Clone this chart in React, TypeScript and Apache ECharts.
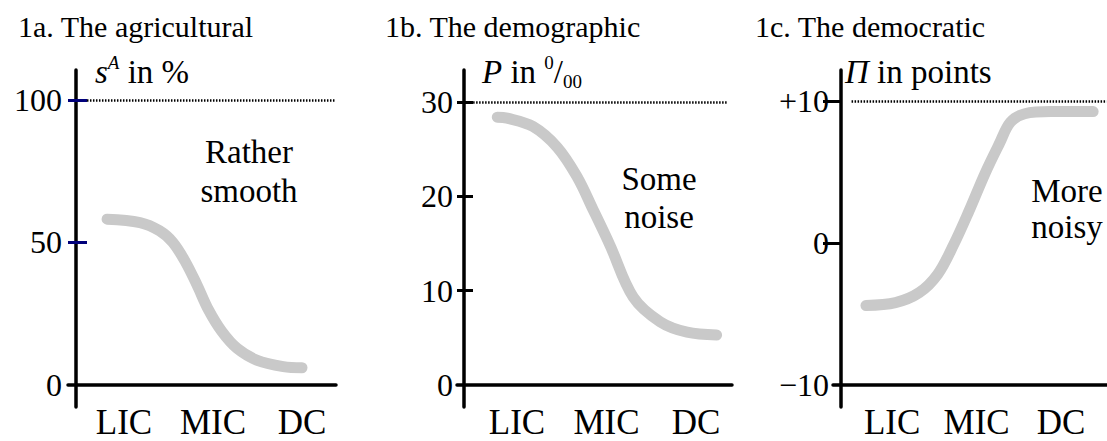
import React, { useEffect, useRef } from 'react';
import * as echarts from 'echarts';

const categories = ['LIC', 'MIC', 'DC'];
const categoryPositions = [0, 1, 2];

const agriculturalCurve: number[][] = [
  [-0.19, 58.1], [0.18, 56.9], [0.4, 54.0], [0.55, 49.9], [0.69, 43.1], [0.82, 35.0],
  [0.95, 26.2], [1.1, 18.6], [1.27, 12.7], [1.49, 8.6], [1.79, 6.3], [2.0, 5.9],
];
const demographicCurve: number[][] = [
  [-0.22, 28.4], [-0.11, 28.3], [0.18, 27.4], [0.45, 25.2], [0.67, 22.1], [0.85, 18.6],
  [1.04, 14.8], [1.3, 9.3], [1.6, 6.7], [1.9, 5.6], [2.23, 5.3],
];
const democraticCurve: number[][] = [
  [-0.31, -4.4], [0.04, -4.2], [0.32, -3.5], [0.54, -2.2], [0.73, -0.1], [0.91, 2.25],
  [1.1, 4.9], [1.27, 7.0], [1.4, 8.5], [1.57, 9.1], [1.88, 9.25], [2.38, 9.25],
];

const agriculturalTicks = [0, 50, 100];
const agriculturalTickLabels = ['0', '50', '100'];
const demographicTicks = [0, 10, 20, 30];
const demographicTickLabels = ['0', '10', '20', '30'];
const democraticTicks = [-10, 0, 10];
const democraticTickLabels = ['\u221210', '0', '+10'];

const titles = ['1a. The agricultural', '1b. The demographic', '1c. The democratic'];
const annotations = ['Rather\nsmooth', 'Some\nnoise', 'More\nnoisy'];
const ceilings = [100, 30, 10];

const FONT = '"Liberation Serif", "Times New Roman", Times, serif';

const panels = [
  {
    curve: agriculturalCurve, ticks: agriculturalTicks, labels: agriculturalTickLabels,
    left: 68, width: 268, xMin: -0.629, xMax: 2.382, yMin: -7.9, yMax: 110.5,
    yOffset: -8, outLen: 8, inLen: 11, tickColor: '#00007a', labelMargin: 14,
    dotFrom: -0.416, dotTo: 2.38, titleX: 18, nameX: 95, noteX: 249, noteY: 171, noteLH: 39,
  },
  {
    curve: demographicCurve, ticks: demographicTicks, labels: demographicTickLabels,
    left: 457, width: 275, xMin: -0.67, xMax: 2.402, yMin: -2.33, yMax: 33.4,
    yOffset: -7, outLen: 7, inLen: 9, tickColor: '#000', labelMargin: 11,
    dotFrom: -0.49, dotTo: 2.35, titleX: 385, nameX: 482, noteX: 659, noteY: 198, noteLH: 38,
  },
  {
    curve: democraticCurve, ticks: democraticTicks, labels: democraticTickLabels,
    left: 833, width: 292, xMin: -0.7, xMax: 2.544, yMin: -11.55, yMax: 12.18,
    yOffset: -8, outLen: 8, inLen: 12, tickColor: '#000', labelMargin: 12,
    dotFrom: -0.48, dotTo: 2.54, titleX: 755, nameX: 845, noteX: 1067, noteY: 209, noteLH: 36,
  },
];

const axisNames = [
  '{i|s}{sup|A}{n| in %}',
  '{i|P}{n| in }{sup|0}{n|/}{sub|00}',
  '{i|\u03A0}{n| in points}',
];

function buildOption() {
  const grid: any[] = [];
  const xAxis: any[] = [];
  const yAxis: any[] = [];
  const series: any[] = [];
  const graphic: any[] = [];

  panels.forEach((p, i) => {
    grid.push({ left: p.left, width: p.width, top: 70, height: 337 });
    xAxis.push({
      type: 'value', gridIndex: i, min: p.xMin, max: p.xMax, position: 'bottom', offset: -22,
      axisLine: { show: true, onZero: false, lineStyle: { color: '#000', width: 3.5 } },
      axisTick: { show: false },
      splitLine: { show: false },
      axisLabel: {
        show: true, customValues: categoryPositions,
        formatter: (v: number) => categories[Math.round(v)],
        fontFamily: FONT, fontSize: 35, color: '#000', margin: 20,
      },
    });
    const marked = p.ticks.slice(1);
    yAxis.push({
      type: 'value', gridIndex: i, min: p.yMin, max: p.yMax, position: 'left', offset: p.yOffset,
      axisLine: { show: true, onZero: false, lineStyle: { color: '#000', width: 3.5 } },
      axisTick: { show: true, customValues: marked, length: p.outLen, lineStyle: { color: p.tickColor, width: 3 } },
      splitLine: { show: false },
      axisLabel: {
        show: true, customValues: p.ticks,
        formatter: (v: number) => p.labels[p.ticks.indexOf(v)] ?? String(v),
        fontFamily: FONT, fontSize: 32, color: '#000', margin: p.labelMargin,
      },
    });
    yAxis.push({
      type: 'value', gridIndex: i, min: p.yMin, max: p.yMax, position: 'right',
      offset: -(p.width + p.yOffset),
      axisLine: { show: false, onZero: false },
      axisTick: { show: true, customValues: marked, length: p.inLen, lineStyle: { color: p.tickColor, width: 3 } },
      splitLine: { show: false },
      axisLabel: { show: false },
    });
    series.push({
      type: 'line', xAxisIndex: i, yAxisIndex: 2 * i, data: p.curve,
      smooth: 0.35, showSymbol: false, symbol: 'none', silent: true,
      lineStyle: { color: '#c9c9c9', width: 11, cap: 'round', join: 'round' },
      markLine: {
        silent: true, symbol: 'none', label: { show: false },
        lineStyle: { color: '#000', width: 2.5, type: [1.5, 1.5] },
        data: [[{ coord: [p.dotFrom, ceilings[i]] }, { coord: [p.dotTo, ceilings[i]] }]],
      },
    });
    graphic.push({
      type: 'text', x: p.titleX, y: 26,
      style: {
        text: titles[i], fontFamily: FONT, fontSize: 30, fill: '#000',
        textAlign: 'left', align: 'left', textVerticalAlign: 'middle', verticalAlign: 'middle',
      },
    });
    graphic.push({
      type: 'text', x: p.nameX, y: 72,
      style: {
        text: axisNames[i], fill: '#000',
        textAlign: 'left', align: 'left', textVerticalAlign: 'middle', verticalAlign: 'middle',
        rich: {
          i: { fontFamily: FONT, fontSize: 33, fontStyle: 'italic', lineHeight: 38, verticalAlign: 'middle' },
          n: { fontFamily: FONT, fontSize: 33, lineHeight: 38, verticalAlign: 'middle' },
          sup: { fontFamily: FONT, fontSize: 19, fontStyle: i === 0 ? 'italic' : 'normal', lineHeight: 38, verticalAlign: 'top' },
          sub: { fontFamily: FONT, fontSize: 19, lineHeight: 38, verticalAlign: 'bottom' },
        },
      },
    });
    graphic.push({
      type: 'text', x: p.noteX, y: p.noteY,
      style: {
        text: annotations[i], fontFamily: FONT, fontSize: 33, lineHeight: p.noteLH, fill: '#000',
        textAlign: 'center', align: 'center', textVerticalAlign: 'middle', verticalAlign: 'middle',
      },
    });
  });

  return { animation: false, backgroundColor: '#fff', grid, xAxis, yAxis, series, graphic };
}

export default function App() {
  const ref = useRef<HTMLDivElement>(null);
  useEffect(() => {
    const chart = echarts.init(ref.current!, null, { renderer: 'svg' });
    chart.setOption(buildOption() as any);
    return () => chart.dispose();
  }, []);
  return (
    <div
      ref={ref}
      style={{ position: 'fixed', left: 0, top: 0, width: 1107, height: 441, background: '#fff' }}
    />
  );
}
